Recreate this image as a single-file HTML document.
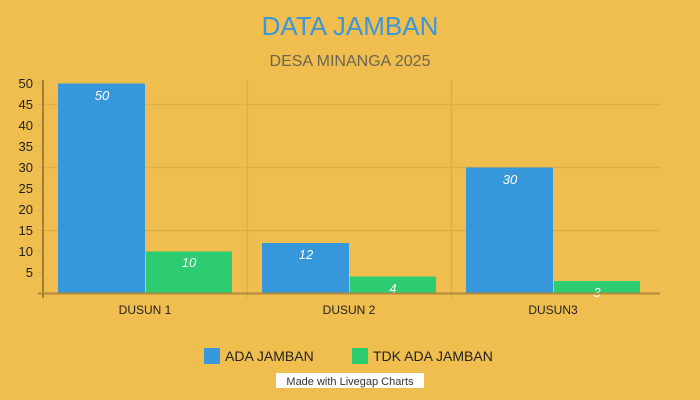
<!DOCTYPE html>
<html><head><meta charset="utf-8"><style>
html,body{margin:0;padding:0;background:#EFBE4E;}
svg{display:block;font-family:"Liberation Sans",sans-serif;}
</style></head><body>
<svg width="700" height="400" xmlns="http://www.w3.org/2000/svg">
<rect width="700" height="400" fill="#EFBE4E"/>
<text x="350" y="35" text-anchor="middle" font-size="26" fill="#3A97DC">DATA JAMBAN</text>
<text x="350" y="66" text-anchor="middle" font-size="16" fill="#6E6450">DESA MINANGA 2025</text>
<g stroke="#DEAF47" stroke-width="1.5">
<line x1="43" y1="104.5" x2="660" y2="104.5"/>
<line x1="43" y1="167.5" x2="660" y2="167.5"/>
<line x1="43" y1="230.5" x2="660" y2="230.5"/>
<line x1="247.5" y1="80" x2="247.5" y2="298"/>
<line x1="451.5" y1="80" x2="451.5" y2="298"/>
</g>
<g stroke="#DDAE48" stroke-width="1">
<line x1="38" y1="83.5" x2="43" y2="83.5"/><line x1="38" y1="104.5" x2="43" y2="104.5"/><line x1="38" y1="125.5" x2="43" y2="125.5"/><line x1="38" y1="146.5" x2="43" y2="146.5"/><line x1="38" y1="167.5" x2="43" y2="167.5"/><line x1="38" y1="188.5" x2="43" y2="188.5"/><line x1="38" y1="209.5" x2="43" y2="209.5"/><line x1="38" y1="230.5" x2="43" y2="230.5"/><line x1="38" y1="251.5" x2="43" y2="251.5"/><line x1="38" y1="272.5" x2="43" y2="272.5"/>
</g>
<g font-size="13" fill="#222" text-anchor="end">
<text x="33" y="88">50</text><text x="33" y="109">45</text><text x="33" y="130">40</text><text x="33" y="151">35</text><text x="33" y="172">30</text><text x="33" y="193">25</text><text x="33" y="214">20</text><text x="33" y="235">15</text><text x="33" y="256">10</text><text x="33" y="277">5</text>
</g>
<g>
<rect x="58" y="83.5" width="87" height="210" fill="#3797DB"/>
<rect x="146" y="251.5" width="86" height="42" fill="#2ECC71"/>
<rect x="262" y="243" width="87" height="50.5" fill="#3797DB"/>
<rect x="350" y="276.5" width="86" height="17" fill="#2ECC71"/>
<rect x="466" y="167.5" width="87" height="126" fill="#3797DB"/>
<rect x="554" y="281" width="86" height="12.5" fill="#2ECC71"/>
</g>
<g font-size="13" fill="#fff" font-style="italic" text-anchor="middle">
<text x="102" y="100">50</text><text x="189" y="267">10</text>
<text x="306" y="259">12</text><text x="393" y="293">4</text>
<text x="510" y="184">30</text><text x="597" y="297">3</text>
</g>
<line x1="43" y1="80" x2="43" y2="298" stroke="#8A6A2A" stroke-width="1.5"/>
<line x1="38" y1="293.5" x2="660" y2="293.5" stroke="#B08A3C" stroke-width="2"/>
<g font-size="12" fill="#222" text-anchor="middle">
<text x="145" y="314">DUSUN 1</text><text x="349" y="314">DUSUN 2</text><text x="553" y="314">DUSUN3</text>
</g>
<rect x="204" y="348" width="16" height="16" fill="#3797DB"/>
<text x="225" y="361" font-size="14" fill="#222">ADA JAMBAN</text>
<rect x="352" y="348" width="16" height="16" fill="#2ECC71"/>
<text x="373" y="361" font-size="14" fill="#222">TDK ADA JAMBAN</text>
<rect x="276" y="373" width="148" height="15" fill="#fff"/>
<text x="350" y="385" text-anchor="middle" font-size="11" fill="#333">Made with Livegap Charts</text>
</svg>
</body></html>
